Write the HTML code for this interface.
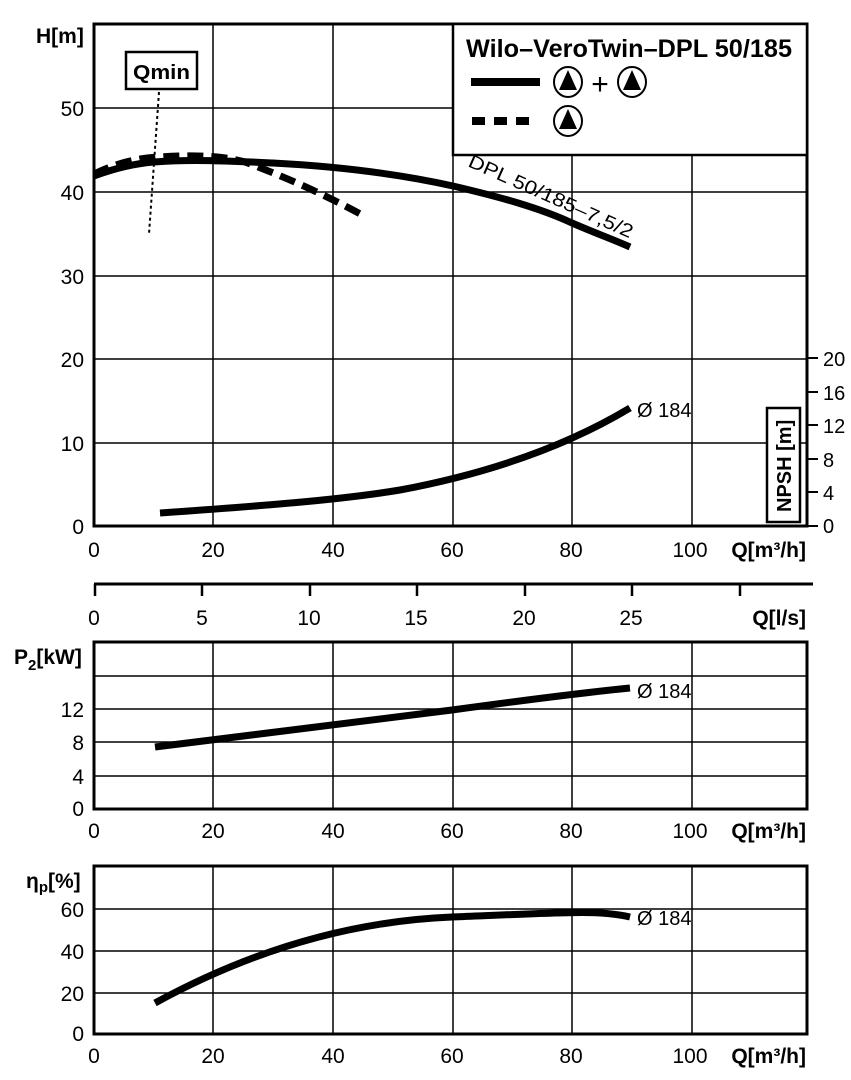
<!DOCTYPE html>
<html><head><meta charset="utf-8"><style>
html,body{margin:0;padding:0;background:#fff}
svg{display:block}
text{font-family:"Liberation Sans Narrow","Liberation Sans",sans-serif;fill:#000}
</style></head><body>
<svg width="851" height="1080" viewBox="0 0 851 1080" xmlns="http://www.w3.org/2000/svg">
<g stroke="#000" stroke-width="1.5" fill="none">
<line x1="94" y1="108" x2="453" y2="108"/>
<line x1="94" y1="192" x2="807" y2="192"/>
<line x1="94" y1="276" x2="807" y2="276"/>
<line x1="94" y1="359" x2="807" y2="359"/>
<line x1="94" y1="443" x2="807" y2="443"/>
<line x1="213" y1="24" x2="213" y2="526"/>
<line x1="333" y1="24" x2="333" y2="526"/>
<line x1="453" y1="24" x2="453" y2="526"/>
<line x1="572" y1="155" x2="572" y2="526"/>
<line x1="692" y1="155" x2="692" y2="526"/>
</g>
<rect x="94" y="24" width="713" height="502" fill="none" stroke="#000" stroke-width="3"/>
<rect x="453" y="24" width="354" height="131" fill="#fff" stroke="#000" stroke-width="2.5"/>
<text x="466" y="57" font-size="25" font-weight="bold" textLength="326" lengthAdjust="spacingAndGlyphs">Wilo–VeroTwin–DPL 50/185</text>
<line x1="471" y1="82" x2="540" y2="82" stroke="#000" stroke-width="8"/>
<g stroke="#000" stroke-width="2" fill="#fff">
<ellipse cx="568" cy="82" rx="14" ry="15"/><ellipse cx="632" cy="82" rx="14" ry="15"/><ellipse cx="568" cy="121" rx="14" ry="15"/>
</g>
<g fill="#000"><polygon points="568,70 559,90 577,90"/><polygon points="632,70 623,90 641,90"/><polygon points="568,109 559,129 577,129"/></g>
<text x="600" y="94" font-size="30" text-anchor="middle">+</text>
<line x1="472" y1="121" x2="534" y2="121" stroke="#000" stroke-width="8" stroke-dasharray="13,9"/>
<rect x="126" y="52" width="71" height="37" fill="#fff" stroke="#000" stroke-width="2.5"/>
<text x="133" y="79" font-size="20" font-weight="bold" textLength="57" lengthAdjust="spacingAndGlyphs">Qmin</text>
<line x1="159" y1="92" x2="149" y2="234" stroke="#000" stroke-width="2" stroke-dasharray="3,3"/>
<path d="M94,176 C110,170 130,164 154,162 C190,159 230,161 273,163 C330,166 390,172 453,186 C500,197 540,208 572,223 C595,233 612,239 630,247" fill="none" stroke="#000" stroke-width="7"/>
<path d="M94,174 C115,164 135,158 160,157 C190,155 220,155 245,162 C280,175 320,192 364,216" fill="none" stroke="#000" stroke-width="7" stroke-dasharray="16,8"/>
<text transform="translate(467,166) rotate(24)" font-size="19" textLength="178" lengthAdjust="spacingAndGlyphs">DPL 50/185–7,5/2</text>
<path d="M160,513 C260,506 340,500 400,490 C480,475 560,450 630,408" fill="none" stroke="#000" stroke-width="7"/>
<text x="637" y="417" font-size="20">Ø 184</text>
<g stroke="#000" stroke-width="2">
<line x1="807" y1="358" x2="818" y2="358"/><line x1="807" y1="392" x2="818" y2="392"/><line x1="807" y1="425" x2="818" y2="425"/><line x1="807" y1="459" x2="818" y2="459"/><line x1="807" y1="492" x2="818" y2="492"/><line x1="807" y1="526" x2="818" y2="526"/>
</g>
<g font-size="20"><text x="823" y="366">20</text><text x="823" y="400">16</text><text x="823" y="433">12</text><text x="823" y="467">8</text><text x="823" y="500">4</text><text x="823" y="533">0</text></g>
<rect x="767" y="408" width="33" height="114" fill="#fff" stroke="#000" stroke-width="2.5"/>
<text transform="translate(791,512) rotate(-90)" font-size="20" font-weight="bold">NPSH [m]</text>
<text x="36" y="43" font-size="21" font-weight="bold">H[m]</text>
<g font-size="21" text-anchor="end"><text x="84" y="116">50</text><text x="84" y="200">40</text><text x="84" y="284">30</text><text x="84" y="367">20</text><text x="84" y="451">10</text><text x="84" y="534">0</text></g>
<g font-size="21" text-anchor="middle"><text x="94" y="557">0</text><text x="213" y="557">20</text><text x="333" y="557">40</text><text x="452" y="557">60</text><text x="571" y="557">80</text><text x="690" y="557">100</text></g>
<text x="806" y="557" font-size="21" font-weight="bold" text-anchor="end">Q[m³/h]</text>
<line x1="94" y1="584" x2="813" y2="584" stroke="#000" stroke-width="3"/>
<g stroke="#000" stroke-width="2.5">
<line x1="95" y1="584" x2="95" y2="596"/><line x1="202" y1="584" x2="202" y2="596"/><line x1="310" y1="584" x2="310" y2="596"/><line x1="417" y1="584" x2="417" y2="596"/><line x1="525" y1="584" x2="525" y2="596"/><line x1="632" y1="584" x2="632" y2="596"/><line x1="740" y1="584" x2="740" y2="596"/>
</g>
<g font-size="21" text-anchor="middle"><text x="94" y="625">0</text><text x="202" y="625">5</text><text x="309" y="625">10</text><text x="416" y="625">15</text><text x="524" y="625">20</text><text x="631" y="625">25</text></g>
<text x="806" y="625" font-size="21" font-weight="bold" text-anchor="end">Q[l/s]</text>
<g stroke="#000" stroke-width="1.5">
<line x1="94" y1="676" x2="807" y2="676"/><line x1="94" y1="709" x2="807" y2="709"/><line x1="94" y1="742" x2="807" y2="742"/><line x1="94" y1="776" x2="807" y2="776"/>
<line x1="213" y1="642" x2="213" y2="809"/><line x1="333" y1="642" x2="333" y2="809"/><line x1="453" y1="642" x2="453" y2="809"/><line x1="572" y1="642" x2="572" y2="809"/><line x1="692" y1="642" x2="692" y2="809"/>
</g>
<rect x="94" y="642" width="713" height="167" fill="none" stroke="#000" stroke-width="3"/>
<path d="M155,747 L452,710 C540,698 600,691 630,688" fill="none" stroke="#000" stroke-width="7"/>
<text x="637" y="698" font-size="20">Ø 184</text>
<text x="14" y="664" font-size="21" font-weight="bold">P<tspan font-size="15" dy="6">2</tspan><tspan dy="-6">[kW]</tspan></text>
<g font-size="21" text-anchor="end"><text x="84" y="717">12</text><text x="84" y="750">8</text><text x="84" y="784">4</text><text x="84" y="816">0</text></g>
<g font-size="21" text-anchor="middle"><text x="94" y="838">0</text><text x="213" y="838">20</text><text x="333" y="838">40</text><text x="452" y="838">60</text><text x="571" y="838">80</text><text x="690" y="838">100</text></g>
<text x="806" y="838" font-size="21" font-weight="bold" text-anchor="end">Q[m³/h]</text>
<g stroke="#000" stroke-width="1.5">
<line x1="94" y1="909" x2="807" y2="909"/><line x1="94" y1="951" x2="807" y2="951"/><line x1="94" y1="993" x2="807" y2="993"/>
<line x1="213" y1="866" x2="213" y2="1034"/><line x1="333" y1="866" x2="333" y2="1034"/><line x1="453" y1="866" x2="453" y2="1034"/><line x1="572" y1="866" x2="572" y2="1034"/><line x1="692" y1="866" x2="692" y2="1034"/>
</g>
<rect x="94" y="866" width="713" height="168" fill="none" stroke="#000" stroke-width="3"/>
<path d="M155,1003 C230,962 330,922 452,917 S600,910 630,917" fill="none" stroke="#000" stroke-width="7"/>
<text x="637" y="925" font-size="20">Ø 184</text>
<text x="26" y="888" font-size="21" font-weight="bold">η<tspan font-size="15" dy="4">p</tspan><tspan dy="-4">[%]</tspan></text>
<g font-size="21" text-anchor="end"><text x="84" y="917">60</text><text x="84" y="959">40</text><text x="84" y="1001">20</text><text x="84" y="1041">0</text></g>
<g font-size="21" text-anchor="middle"><text x="94" y="1063">0</text><text x="213" y="1063">20</text><text x="333" y="1063">40</text><text x="452" y="1063">60</text><text x="571" y="1063">80</text><text x="690" y="1063">100</text></g>
<text x="806" y="1063" font-size="21" font-weight="bold" text-anchor="end">Q[m³/h]</text>
</svg>
</body></html>
